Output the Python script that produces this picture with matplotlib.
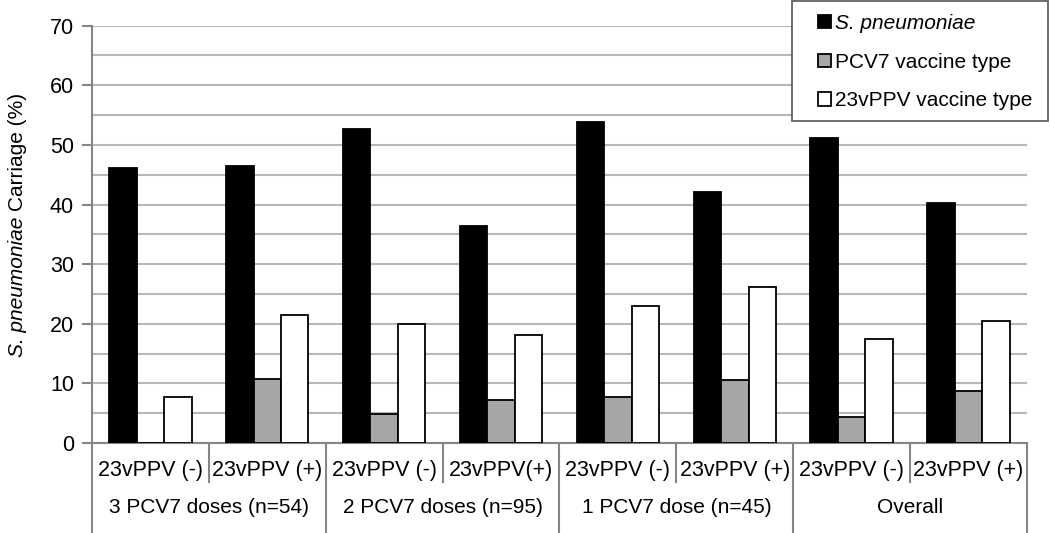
import numpy as np
import matplotlib
matplotlib.use("Agg")
import matplotlib.pyplot as plt
from matplotlib.patches import Rectangle

plt.rcParams["font.family"] = ["Liberation Sans", "DejaVu Sans"]

SUB_LABELS = ["23vPPV (-)", "23vPPV (+)", "23vPPV (-)", "23vPPV(+)",
              "23vPPV (-)", "23vPPV (+)", "23vPPV (-)", "23vPPV (+)"]
GROUP_LABELS = ["3 PCV7 doses (n=54)", "2 PCV7 doses (n=95)",
                "1 PCV7 dose (n=45)", "Overall"]
SERIES = ["S. pneumoniae", "PCV7 vaccine type", "23vPPV vaccine type"]

spn = [46.2, 46.5, 52.6, 36.4, 53.8, 42.1, 51.2, 40.3]
pcv7 = [0.0, 10.7, 4.9, 7.2, 7.7, 10.5, 4.4, 8.7]
ppv23 = [7.7, 21.4, 20.0, 18.1, 23.0, 26.2, 17.4, 20.5]

COLORS = ["#000000", "#a6a6a6", "#ffffff"]
AXC = "#868686"

fig = plt.figure(figsize=(10.5, 5.33), dpi=100)
ax = fig.add_axes([0.0876, 0.1689, 0.8905, 0.7829])

x = np.arange(len(SUB_LABELS))
w = 0.235
for i, (vals, c, lab) in enumerate(zip([spn, pcv7, ppv23], COLORS, SERIES)):
    v = np.array(vals)
    ax.bar(x + (i - 1) * w, v, w, color=c, edgecolor="black", linewidth=1.3,
           label=lab, zorder=3)

ax.set_xlim(-0.5, len(SUB_LABELS) - 0.5)
ax.set_ylim(0, 70)
ax.set_yticks(np.arange(0, 71, 10))
ax.set_yticks(np.arange(0, 71, 5), minor=True)
ax.tick_params(axis="y", which="major", labelsize=15.5, length=7, width=1.5,
               color=AXC, pad=6)
ax.tick_params(axis="y", which="minor", length=0)
ax.set_xticks([])
ax.grid(axis="y", which="both", color="#b8b8b8", linewidth=1.5, zorder=0)
ax.set_axisbelow(True)

for s in ["top", "right"]:
    ax.spines[s].set_visible(False)
for s in ["left", "bottom"]:
    ax.spines[s].set_color(AXC)
    ax.spines[s].set_linewidth(1.5)

# y label: italic species name + plain rest
t1 = fig.text(18 / 1050, (533 - 357) / 533, "S. pneumoniae ", rotation=90,
              ha="center", va="bottom", fontsize=15, style="italic")
ax.annotate("Carriage (%)", xy=(0.5, 1.0), xycoords=t1, rotation=90,
            ha="center", va="bottom", fontsize=15, annotation_clip=False)

# two-level category axis
tr = ax.get_xaxis_transform()
sub_bottom = -0.0935
full_bottom = -0.25
for i, lab in enumerate(SUB_LABELS):
    ax.text(i, -0.065, lab, transform=tr, ha="center", va="center",
            fontsize=15.5, clip_on=False)
for b in np.arange(-0.5, len(SUB_LABELS), 1.0):
    k = int(round(b + 0.5))
    bottom = full_bottom if k % 2 == 0 else sub_bottom
    ax.plot([b, b], [0, bottom], transform=tr, color=AXC, linewidth=1.5,
            clip_on=False, zorder=5)
for j, lab in enumerate(GROUP_LABELS):
    ax.text(2 * j + 0.5, -0.155, lab, transform=tr, ha="center", va="center",
            fontsize=15, clip_on=False)

# legend, frame drawn separately
fig.patches.append(Rectangle((792 / 1050, (533 - 121) / 533), 256 / 1050, 120 / 533,
                             transform=fig.transFigure, facecolor="white",
                             edgecolor="#555555", linewidth=1.2, zorder=4))
leg = fig.legend(loc="upper left", bbox_to_anchor=(812 / 1050, 0.986),
                 borderaxespad=0, fontsize=15, frameon=False,
                 handlelength=0.6, handleheight=0.6, handletextpad=0.2,
                 labelspacing=0.95, borderpad=0.3)
leg.set_zorder(5)
leg.get_texts()[0].set_fontstyle("italic")

fig.savefig("out.png", dpi=100)
